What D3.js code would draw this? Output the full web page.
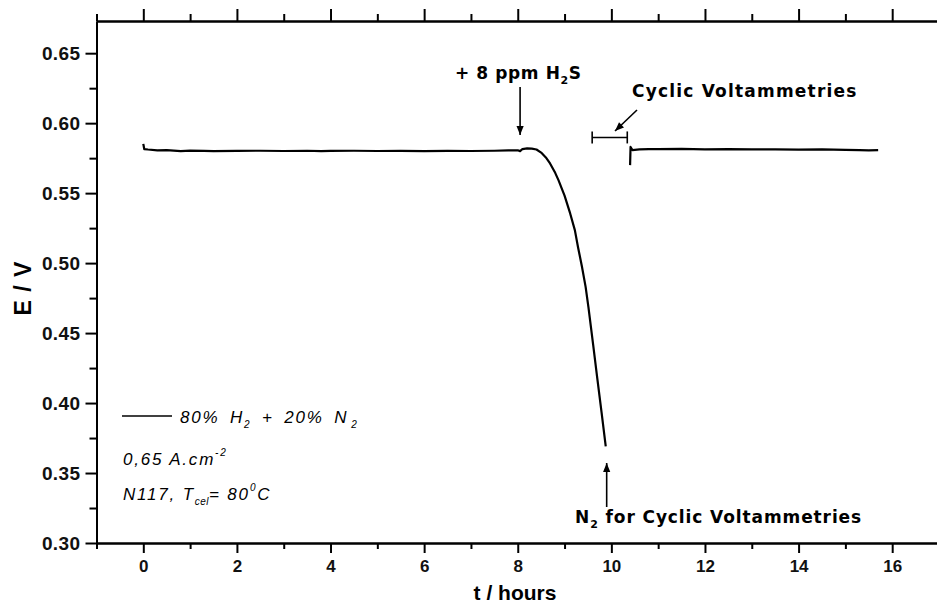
<!DOCTYPE html>
<html>
<head>
<meta charset="utf-8">
<script src="https://cdn.jsdelivr.net/npm/d3@7/dist/d3.min.js"></script>
<style>
  html, body { margin: 0; padding: 0; background: #fff; }
  svg { display: block; }
</style>
</head>
<body>
<svg id="chart" width="937" height="603"></svg>
<script>
// ---- data ----
const xTicks = [0, 2, 4, 6, 8, 10, 12, 14, 16];
const xMinorTicks = [-1, 1, 3, 5, 7, 9, 11, 13, 15, 17];
const yTicks = [0.30, 0.35, 0.40, 0.45, 0.50, 0.55, 0.60, 0.65];
const yMinorTicks = [0.325, 0.375, 0.425, 0.475, 0.525, 0.575, 0.625];

// before H2S / poisoning segment
const timeA = [0, 0.02, 0.1, 0.3, 0.5, 0.8, 1.0, 1.3, 1.5, 2.0, 2.5, 3.0, 3.5, 3.8, 4.0, 4.5, 5.0, 5.5, 6.0, 6.5, 7.0, 7.5, 7.8, 8.0, 8.05, 8.1, 8.2, 8.3, 8.4, 8.5, 8.6, 8.69, 8.8, 8.87, 9.0, 9.12, 9.22, 9.29, 9.37, 9.45, 9.51, 9.61, 9.70, 9.79, 9.88];
const valueA = [0.5852, 0.5815, 0.5812, 0.5806, 0.5808, 0.5800, 0.5804, 0.5802, 0.5800, 0.5802, 0.5803, 0.5801, 0.5803, 0.5800, 0.5802, 0.5803, 0.5801, 0.5802, 0.5800, 0.5802, 0.5801, 0.5803, 0.5805, 0.5806, 0.5800, 0.5815, 0.5820, 0.5818, 0.5812, 0.5790, 0.5755, 0.5712, 0.5645, 0.5593, 0.5482, 0.5355, 0.5236, 0.5110, 0.4978, 0.4830, 0.4685, 0.4420, 0.4175, 0.3935, 0.3690];

// after cyclic voltammetries
const timeB = [10.40, 10.41, 10.45, 10.6, 10.8, 11.0, 11.5, 12.0, 12.5, 13.0, 13.5, 14.0, 14.5, 15.0, 15.3, 15.5, 15.7];
const valueB = [0.5700, 0.5830, 0.5808, 0.5812, 0.5815, 0.5814, 0.5816, 0.5813, 0.5815, 0.5812, 0.5813, 0.5811, 0.5812, 0.5809, 0.5808, 0.5806, 0.5808];

// annotations
const h2sTime = 8.05;
const cvStart = 9.59, cvEnd = 10.34;
const n2Time = 9.9;

// ---- layout ----
const svg = d3.select("#chart");
const x = d3.scaleLinear().domain([-1, 17]).range([96.5, 939]);
const y = d3.scaleLinear().domain([0.30, 0.673]).range([543, 21]);

const font = "'Liberation Sans', Arial, sans-serif";

function styleAxis(g) {
  g.selectAll("path.domain").attr("stroke", "#000").attr("stroke-width", 2);
  g.selectAll(".tick line").attr("stroke", "#000").attr("stroke-width", 2);
}

// bottom
const xb = svg.append("g").attr("transform", `translate(0,${y(0.30)})`)
  .call(d3.axisBottom(x).tickValues(xTicks).tickSize(10).tickSizeOuter(0).tickPadding(7).tickFormat(d3.format("d")));
styleAxis(xb);
xb.selectAll("text").attr("font-family", font).attr("font-weight", "bold").attr("font-size", 17).attr("fill", "#111");
const xbm = svg.append("g").attr("transform", `translate(0,${y(0.30)})`)
  .call(d3.axisBottom(x).tickValues(xMinorTicks).tickSize(6).tickSizeOuter(0).tickFormat(""));
styleAxis(xbm);

// top
const xt = svg.append("g").attr("transform", `translate(0,${y(0.673)})`)
  .call(d3.axisTop(x).tickValues(xTicks).tickSize(12).tickSizeOuter(0).tickFormat(""));
styleAxis(xt);
const xtm = svg.append("g").attr("transform", `translate(0,${y(0.673)})`)
  .call(d3.axisTop(x).tickValues(xMinorTicks).tickSize(7).tickSizeOuter(0).tickFormat(""));
styleAxis(xtm);

// left
const yl = svg.append("g").attr("transform", `translate(${x(-1)},0)`)
  .call(d3.axisLeft(y).tickValues(yTicks).tickSize(11).tickSizeOuter(0).tickPadding(5).tickFormat(d3.format(".2f")));
styleAxis(yl);
yl.selectAll("text").attr("font-family", font).attr("font-weight", "bold").attr("font-size", 19)
  .attr("letter-spacing", 0.4).attr("fill", "#111").attr("dy", "0.35em");
const ylm = svg.append("g").attr("transform", `translate(${x(-1)},0)`)
  .call(d3.axisLeft(y).tickValues(yMinorTicks).tickSize(7).tickSizeOuter(0).tickFormat(""));
styleAxis(ylm);

// axis titles
svg.append("text")
  .attr("transform", `translate(31,288) rotate(-90)`)
  .attr("text-anchor", "middle")
  .attr("font-family", font).attr("font-weight", "bold").attr("font-size", 23)
  .attr("letter-spacing", 1)
  .text("E / V");
svg.append("text")
  .attr("x", 515).attr("y", 600)
  .attr("text-anchor", "middle")
  .attr("font-family", font).attr("font-weight", "bold").attr("font-size", 21)
  .text("t / hours");

// data lines
const line = d3.line().x(d => x(d[0])).y(d => y(d[1]));
svg.append("path")
  .datum(timeA.map((t, i) => [t, valueA[i]]))
  .attr("d", line).attr("fill", "none").attr("stroke", "#000").attr("stroke-width", 2.2)
  .attr("stroke-linejoin", "round");
svg.append("path")
  .datum(timeB.map((t, i) => [t, valueB[i]]))
  .attr("d", line).attr("fill", "none").attr("stroke", "#000").attr("stroke-width", 2.2)
  .attr("stroke-linejoin", "round");

// arrow marker
const defs = svg.append("defs");
defs.append("marker").attr("id", "arr")
  .attr("viewBox", "0 0 10 10").attr("refX", 10).attr("refY", 5)
  .attr("markerWidth", 10).attr("markerHeight", 9).attr("markerUnits", "userSpaceOnUse")
  .attr("orient", "auto")
  .append("path").attr("d", "M0,1 L10,5 L0,9 Z").attr("fill", "#000");

const annFont = "'DejaVu Sans', 'Liberation Sans', sans-serif";

// + 8 ppm H2S
const t1 = svg.append("text").attr("x", 455).attr("y", 79)
  .attr("font-family", annFont).attr("font-weight", "bold").attr("font-size", 17).attr("letter-spacing", 0.6);
t1.append("tspan").text("+ 8 ppm H");
t1.append("tspan").attr("dy", 5).attr("font-size", 11).text("2");
t1.append("tspan").attr("dy", -5).text("S");
svg.append("line")
  .attr("x1", x(h2sTime)).attr("x2", x(h2sTime))
  .attr("y1", 87).attr("y2", 135)
  .attr("stroke", "#000").attr("stroke-width", 1.6).attr("marker-end", "url(#arr)");

// Cyclic Voltammetries bracket
const by = y(0.5898);
svg.append("line").attr("x1", x(cvStart)).attr("x2", x(cvEnd)).attr("y1", by).attr("y2", by)
  .attr("stroke", "#000").attr("stroke-width", 1.6);
[cvStart, cvEnd].forEach(t => {
  svg.append("line").attr("x1", x(t)).attr("x2", x(t)).attr("y1", by - 6).attr("y2", by + 6)
    .attr("stroke", "#000").attr("stroke-width", 1.6);
});
svg.append("text").attr("x", 632).attr("y", 97)
  .attr("font-family", annFont).attr("font-weight", "bold").attr("font-size", 17).attr("letter-spacing", 1.2)
  .text("Cyclic Voltammetries");
svg.append("line").attr("x1", 637).attr("y1", 110).attr("x2", 615).attr("y2", 131)
  .attr("stroke", "#000").attr("stroke-width", 1.6).attr("marker-end", "url(#arr)");

// N2 for Cyclic Voltammetries
svg.append("line")
  .attr("x1", x(n2Time)).attr("x2", x(n2Time))
  .attr("y1", 507).attr("y2", 463)
  .attr("stroke", "#000").attr("stroke-width", 1.6).attr("marker-end", "url(#arr)");
const t3 = svg.append("text").attr("x", 575).attr("y", 523)
  .attr("font-family", annFont).attr("font-weight", "bold").attr("font-size", 17).attr("letter-spacing", 0.9);
t3.append("tspan").text("N");
t3.append("tspan").attr("dy", 5).attr("font-size", 11).text("2");
t3.append("tspan").attr("dy", -5).text(" for Cyclic Voltammetries");

// legend / conditions
const lf = "'Liberation Sans', Arial, sans-serif";
svg.append("line").attr("x1", 122).attr("x2", 172).attr("y1", 416).attr("y2", 416)
  .attr("stroke", "#000").attr("stroke-width", 1.6);

function leg(xb, yb) {
  return svg.append("text").attr("x", xb).attr("y", yb)
    .attr("font-family", lf).attr("font-style", "italic").attr("font-size", 17).attr("letter-spacing", 1.8);
}
const l1 = leg(180, 423).attr("word-spacing", 4);
l1.append("tspan").text("80% H");
l1.append("tspan").attr("dy", 5).attr("font-size", 10).text("2");
l1.append("tspan").attr("dy", -5).text(" + 20% N");
l1.append("tspan").attr("dx", 3).attr("dy", 5).attr("font-size", 10).text("2");

const l2 = leg(123, 465);
l2.append("tspan").text("0,65 A.cm");
l2.append("tspan").attr("dy", -9).attr("font-size", 10).text("-2");

const l3 = leg(123, 500);
l3.append("tspan").text("N117, T");
l3.append("tspan").attr("dy", 5).attr("font-size", 10).attr("letter-spacing", 0.5).text("cel");
l3.append("tspan").attr("dy", -5).text("= 80");
l3.append("tspan").attr("dy", -9).attr("font-size", 10).text("0");
l3.append("tspan").attr("dy", 9).text("C");
</script>
</body>
</html>
